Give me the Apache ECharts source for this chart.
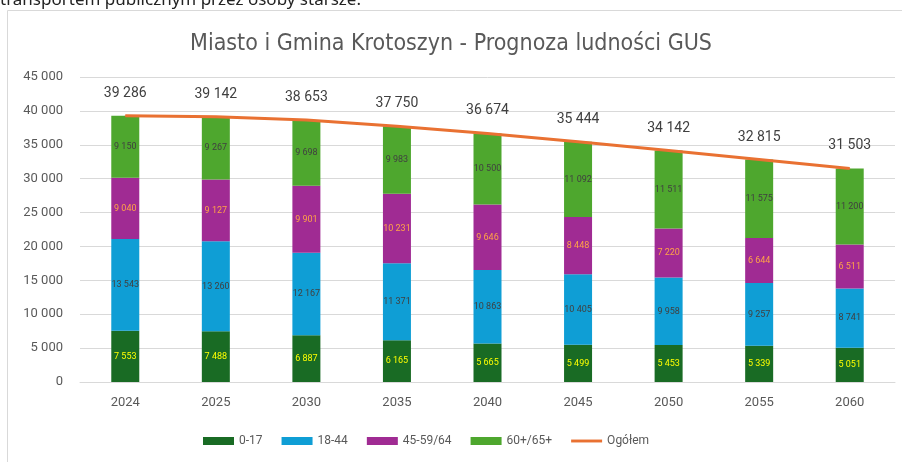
<!DOCTYPE html>
<html>
<head>
    <meta charset="UTF-8">
    <title>Prognoza ludności GUS</title>
    <script src="https://cdn.jsdelivr.net/npm/echarts@6/dist/echarts.min.js"></script>
    <style>
        html, body { margin: 0; padding: 0; background: #fff; }
        #main { width: 902px; height: 462px; }
    </style>
</head>
<body>
    <div id="main"></div>

    <script>
        // dane
        const years = ['2024', '2025', '2030', '2035', '2040', '2045', '2050', '2055', '2060'];
        const age0_17 = [7553, 7488, 6887, 6165, 5665, 5499, 5453, 5339, 5051];
        const age18_44 = [13543, 13260, 12167, 11371, 10863, 10405, 9958, 9257, 8741];
        const age45_64 = [9040, 9127, 9901, 10231, 9646, 8448, 7220, 6644, 6511];
        const age60plus = [9150, 9267, 9698, 9983, 10500, 11092, 11511, 11575, 11200];
        const total = [39286, 39142, 38653, 37750, 36674, 35444, 34142, 32815, 31503];

        const fmt = v => String(v).replace(/\B(?=(\d{3})+(?!\d))/g, ' ');
        const font = 'Roboto, "Liberation Sans", sans-serif';

        function barSeries(name, data, color, labelColor) {
            return {
                name: name,
                type: 'bar',
                stack: 'ludnosc',
                data: data,
                barWidth: 28,
                itemStyle: { color: color },
                label: {
                    show: true,
                    position: 'inside',
                    color: labelColor,
                    fontSize: 9,
                    fontFamily: font,
                    formatter: p => fmt(p.value)
                }
            };
        }

        const chart = echarts.init(document.getElementById('main'));
        chart.setOption({
            animation: false,
            textStyle: { fontFamily: font },
            title: {
                text: 'Miasto i Gmina Krotoszyn - Prognoza ludności GUS',
                left: 'center',
                top: 28,
                textStyle: {
                    fontSize: 23,
                    fontWeight: 'normal',
                    color: '#595959',
                    fontFamily: '"Liberation Sans Narrow", "DejaVu Sans Condensed", sans-serif'
                }
            },
            graphic: [
                {
                    type: 'rect',
                    shape: { x: 7.5, y: 10.5, width: 900, height: 460 },
                    style: { fill: 'none', stroke: '#D9D9D9', lineWidth: 1 },
                    silent: true
                },
                {
                    type: 'text',
                    left: 0,
                    top: -8,
                    style: {
                        text: 'transportem publicznym przez osoby starsze.',
                        font: '17px "Noto Sans", sans-serif',
                        fill: '#222'
                    },
                    silent: true
                }
            ],
            legend: {
                bottom: 10,
                left: 198,
                itemWidth: 31,
                itemHeight: 8,
                itemGap: 19,
                textStyle: { color: '#595959', fontSize: 12 },
                data: [
                    { name: '0-17', icon: 'rect' },
                    { name: '18-44', icon: 'rect' },
                    { name: '45-59/64', icon: 'rect' },
                    { name: '60+/65+', icon: 'rect' },
                    {
                        name: 'Ogółem',
                        icon: 'path://M0,0 L32,0 L32,3 L0,3 Z',
                        itemStyle: { color: '#E97132', opacity: 1 }
                    }
                ]
            },
            grid: { left: 80, right: 7, top: 77, bottom: 80, containLabel: false },
            xAxis: {
                type: 'category',
                data: years,
                axisLine: { lineStyle: { color: '#D9D9D9' } },
                axisTick: { show: false },
                axisLabel: { color: '#595959', fontSize: 13, margin: 14 }
            },
            yAxis: {
                type: 'value',
                min: 0,
                max: 45000,
                interval: 5000,
                axisLine: { show: false },
                axisTick: { show: false },
                splitLine: { lineStyle: { color: '#D9D9D9' } },
                axisLabel: { color: '#595959', fontSize: 13, margin: 17, formatter: v => fmt(v) }
            },
            series: [
                barSeries('0-17', age0_17, '#196B24', '#FFFF00'),
                barSeries('18-44', age18_44, '#0F9ED5', '#404040'),
                barSeries('45-59/64', age45_64, '#A02B93', '#FFA347'),
                barSeries('60+/65+', age60plus, '#4EA72E', '#404040'),
                {
                    name: 'Ogółem',
                    type: 'line',
                    data: total,
                    symbol: 'circle',
                    symbolSize: 1,
                    showSymbol: true,
                    z: 5,
                    lineStyle: { color: '#E97132', width: 3 },
                    itemStyle: { color: '#E97132' },
                    label: {
                        show: true,
                        position: 'top',
                        distance: 15,
                        color: '#404040',
                        fontSize: 14,
                        formatter: p => fmt(p.value)
                    }
                }
            ]
        });
    </script>
</body>
</html>
